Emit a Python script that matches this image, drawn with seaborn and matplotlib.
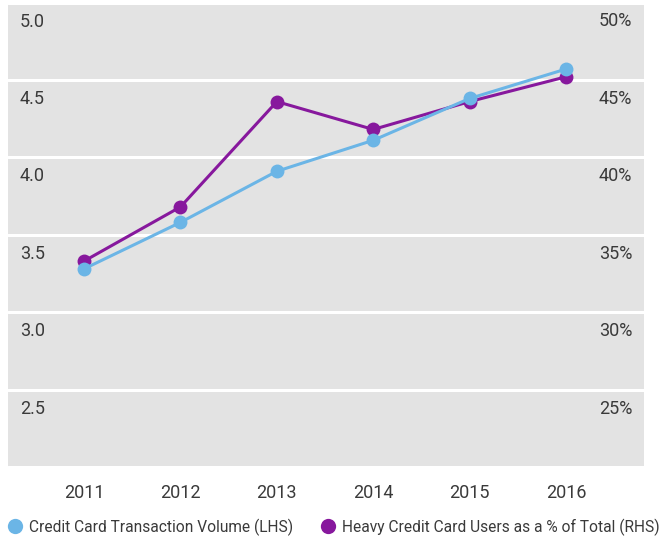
import matplotlib
matplotlib.use("Agg")
import matplotlib.pyplot as plt
from matplotlib.lines import Line2D
import pandas as pd
import seaborn as sns

years = [2011, 2012, 2013, 2014, 2015, 2016]
txn_volume = [3.28, 3.58, 3.91, 4.11, 4.38, 4.57]
heavy_users_pct = [33.3, 36.8, 43.6, 41.8, 43.6, 45.2]
left_ticks = [5.0, 4.5, 4.0, 3.5, 3.0, 2.5]
right_ticks = [50, 45, 40, 35, 30, 25]
labels = ["Credit Card Transaction Volume (LHS)",
          "Heavy Credit Card Users as a % of Total (RHS)"]

blue = "#6bb5e6"
purple = "#87189d"
grey_bg = "#e3e3e3"
text_col = "#3a3a3a"

sns.set_style("white")
plt.rcParams["font.family"] = ["Roboto", "DejaVu Sans"]

df = pd.DataFrame({"year": years, "volume": txn_volume, "heavy": heavy_users_pct})

fig = plt.figure(figsize=(6.67, 5.44), dpi=100)
# back axis (RHS) carries the grey background and the grid
ax2 = fig.add_axes([8 / 667, 77 / 544, 636 / 667, 464.5 / 544])
ax = ax2.twinx()
ax.set_zorder(ax2.get_zorder() + 1)
ax.patch.set_visible(False)

ax2.set_facecolor(grey_bg)
sns.lineplot(data=df, x="year", y="heavy", ax=ax2, color=purple, lw=2.2,
             marker="o", markersize=10, markeredgewidth=0)
sns.lineplot(data=df, x="year", y="volume", ax=ax, color=blue, lw=2.2,
             marker="o", markersize=10, markeredgewidth=0)

for a in (ax, ax2):
    a.set_xlim(2011 - 0.79, 2016 + 0.81)
    a.set_xlabel("")
    a.set_ylabel("")
    for s in a.spines.values():
        s.set_visible(False)
ax.set_ylim(2.0, 5.0)
ax2.set_ylim(20, 50)

ax2.set_yticks([20, 25, 30, 35, 40, 45, 50])
ax2.yaxis.grid(True, color="white", lw=2.2)
ax2.xaxis.grid(False)
ax2.set_axisbelow(True)
ax2.tick_params(axis="y", length=0, labelleft=False, labelright=False)
ax.tick_params(axis="y", length=0, labelleft=False, labelright=False)

ax2.set_xticks(years)
ax2.set_xticklabels([str(y) for y in years])
ax2.tick_params(axis="x", length=0, pad=12, labelsize=13, labelcolor=text_col)
ax.tick_params(axis="x", length=0, labelbottom=False)

for v in left_ticks:
    ax.annotate(f"{v:.1f}", xy=(0, v), xycoords=("axes fraction", "data"),
                xytext=(12, -10), textcoords="offset pixels",
                ha="left", va="top", fontsize=13, color=text_col)
for v in right_ticks:
    ax2.annotate(f"{v}%", xy=(1, v), xycoords=("axes fraction", "data"),
                 xytext=(-12, -10), textcoords="offset pixels",
                 ha="right", va="top", fontsize=13, color=text_col)

handles = [Line2D([], [], ls="none", marker="o", markersize=11,
                  markeredgewidth=0, color=c) for c in (blue, purple)]
fig.legend(handles, labels, loc="center left", bbox_to_anchor=(4 / 667, 17 / 544),
           ncol=2, frameon=False, fontsize=11.2, labelcolor=text_col,
           handlelength=0.6, handletextpad=0.6, columnspacing=1.95,
           borderpad=0, borderaxespad=0.4)

fig.savefig("out.png", dpi=100)
